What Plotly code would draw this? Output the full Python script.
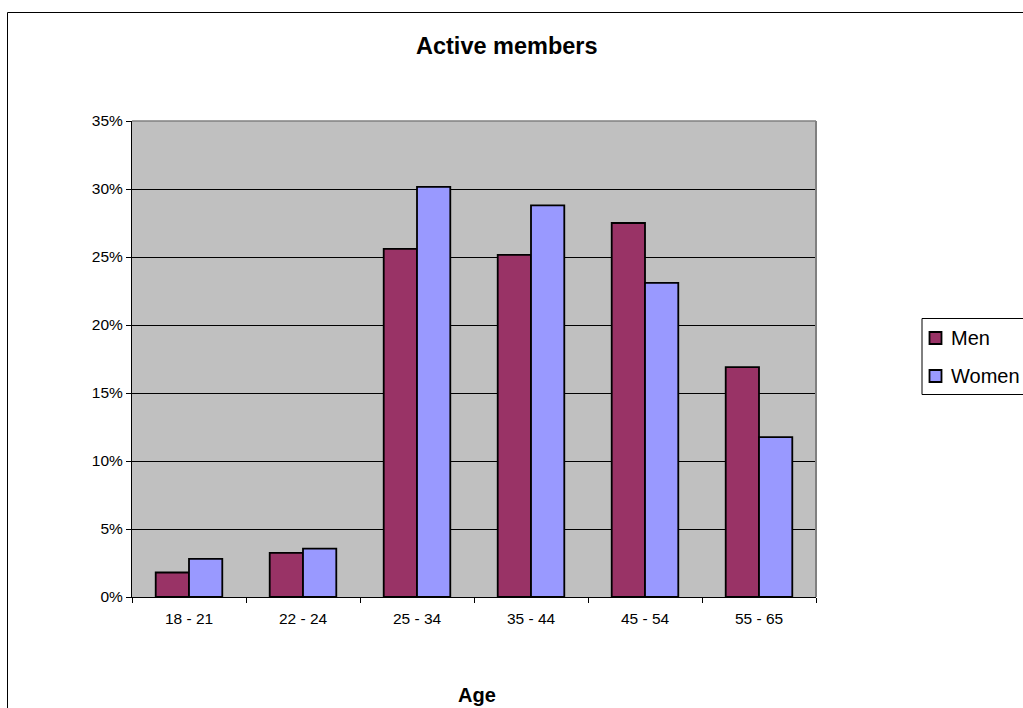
import plotly.graph_objects as go

# Share of active members by age band (percent)
age_bands = ["18 - 21", "22 - 24", "25 - 34", "35 - 44", "45 - 54", "55 - 65"]
men = [1.8, 3.25, 25.6, 25.15, 27.5, 16.9]
women = [2.8, 3.55, 30.15, 28.8, 23.1, 11.75]
y_ticks = [0, 5, 10, 15, 20, 25, 30, 35]

series = [("Men", men, "#993366"), ("Women", women, "#9999FF")]

W, H = 1023, 708
L, R, T, B = 132, 207, 121, 111
PW, PH = W - L - R, H - T - B

FONT = "Arial, Liberation Sans, sans-serif"


def px_x(x):
    return (x - L) / PW


def px_y(y):
    return (H - B - y) / PH


fig = go.Figure()
for name, vals, color in series:
    fig.add_trace(go.Bar(
        name=name, x=age_bands, y=vals,
        marker=dict(color=color, line=dict(color="black", width=1.8)),
    ))

shapes = [
    # chart frame
    dict(type="rect", xref="paper", yref="paper",
         x0=px_x(7.5), x1=px_x(1040), y0=px_y(730), y1=px_y(12.5),
         line=dict(color="black", width=1), layer="below"),
    # plot-area border on top and right
    dict(type="line", xref="paper", yref="paper",
         x0=0, x1=1, y0=1, y1=1, line=dict(color="#808080", width=1.5)),
    dict(type="line", xref="paper", yref="paper",
         x0=1, x1=1, y0=0, y1=1, line=dict(color="#808080", width=2)),
    # legend box
    dict(type="rect", xref="paper", yref="paper",
         x0=px_x(922), x1=px_x(1040), y0=px_y(394.5), y1=px_y(318.5),
         line=dict(color="black", width=1), fillcolor="white"),
]

annotations = [
    dict(text="Active members", xref="paper", yref="paper",
         x=px_x(506.5), y=px_y(46), xanchor="center", yanchor="middle",
         showarrow=False, font=dict(size=23.5, family=FONT, weight="bold")),
    dict(text="Age", xref="paper", yref="paper",
         x=px_x(477), y=px_y(695), xanchor="center", yanchor="middle",
         showarrow=False, font=dict(size=20, family=FONT, weight="bold")),
]

# legend entries: swatch + label
for i, (name, _, color) in enumerate(series):
    cy = 338 + 38 * i
    shapes.append(dict(
        type="rect", xref="paper", yref="paper",
        x0=px_x(929.5), x1=px_x(941.5), y0=px_y(cy + 6), y1=px_y(cy - 6),
        line=dict(color="black", width=1.8), fillcolor=color,
    ))
    annotations.append(dict(
        text=name, xref="paper", yref="paper",
        x=px_x(949), y=px_y(cy), xanchor="left", yanchor="middle",
        showarrow=False, font=dict(size=20, family=FONT),
    ))

fig.update_layout(
    width=W, height=H,
    margin=dict(l=L, r=R, t=T, b=B, autoexpand=False),
    paper_bgcolor="white",
    plot_bgcolor="#C0C0C0",
    barmode="group", bargap=0.416, bargroupgap=0,
    font=dict(family=FONT, color="black"),
    showlegend=False,
    xaxis=dict(
        showline=True, linecolor="black", linewidth=1,
        ticks="outside", tickson="boundaries", ticklen=5, tickcolor="black",
        tickfont=dict(size=15.5, family=FONT), showgrid=False,
        ticklabelstandoff=7,
    ),
    yaxis=dict(
        range=[0, 35], tickmode="array", tickvals=y_ticks,
        ticktext=[f"{v}%" for v in y_ticks],
        showline=True, linecolor="black", linewidth=1,
        ticks="outside", ticklen=5, tickcolor="black",
        tickfont=dict(size=15.5, family=FONT),
        showgrid=True, gridcolor="black", gridwidth=1, zeroline=False,
    ),
    shapes=shapes,
    annotations=annotations,
)

fig.write_html("out.html")
